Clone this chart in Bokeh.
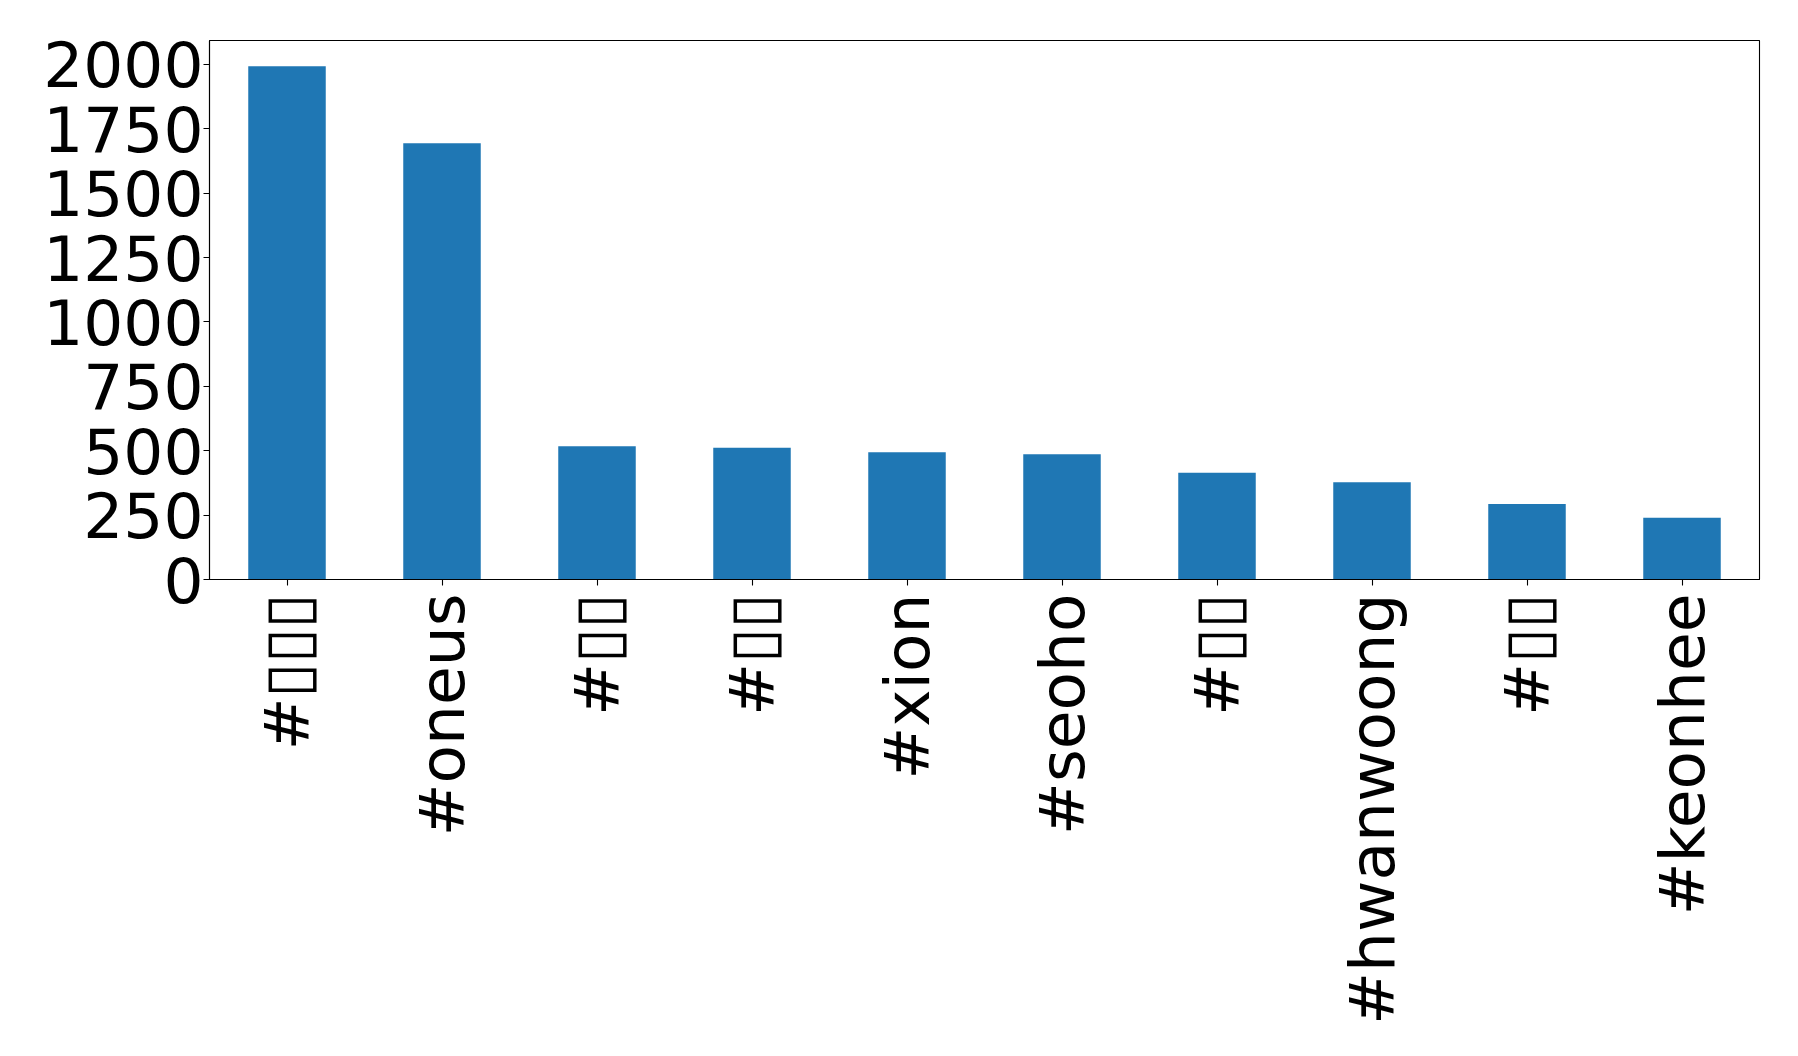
import math
from bokeh.plotting import figure
from bokeh.models import ColumnDataSource, Range1d, FixedTicker
from bokeh.embed import file_html
from bokeh.resources import INLINE

# Data (Korean labels render as missing-glyph boxes in the reference)
categories = ["#▯▯▯", "#oneus", "#▯▯", "#▯▯", "#xion", "#seoho", "#▯▯", "#hwanwoong", "#▯▯", "#keonhee"]
counts = [1993, 1694, 517, 512, 494, 486, 414, 378, 293, 240]
y_ticks = [0, 250, 500, 750, 1000, 1250, 1500, 1750, 2000]

xs = list(range(len(categories)))
source = ColumnDataSource(data=dict(x=xs, top=counts))

p = figure(
    width=1782, height=1040,
    x_range=Range1d(-0.5, len(categories) - 0.5),
    y_range=Range1d(0, max(counts) * 1.05),
    output_backend="svg", toolbar_location=None,
    min_border_left=209, min_border_right=23,
    min_border_top=40, min_border_bottom=461,
)

p.vbar(x="x", top="top", width=0.5, source=source,
       fill_color="#1f77b4", line_color=None)

p.xgrid.visible = False
p.ygrid.visible = False
p.outline_line_color = "black"
p.outline_line_width = 1.1

FONT = "DejaVu Sans"
for ax in (p.xaxis[0], p.yaxis[0]):
    ax.axis_line_color = "black"
    ax.axis_line_width = 1.1
    ax.major_tick_line_color = "black"
    ax.major_tick_line_width = 1.1
    ax.major_tick_in = 0
    ax.major_tick_out = 6
    ax.minor_tick_line_color = None
    ax.major_label_text_font = FONT
    ax.major_label_text_font_size = "63px"
    ax.major_label_text_color = "black"

p.xaxis.ticker = FixedTicker(ticks=xs)
p.xaxis.major_label_overrides = {i: c for i, c in zip(xs, categories)}
p.xaxis.major_label_orientation = math.pi / 2
p.xaxis.major_label_standoff = 8

p.yaxis.ticker = FixedTicker(ticks=y_ticks)
p.yaxis.major_label_standoff = 0

open("out.html", "w").write(file_html(p, INLINE))
